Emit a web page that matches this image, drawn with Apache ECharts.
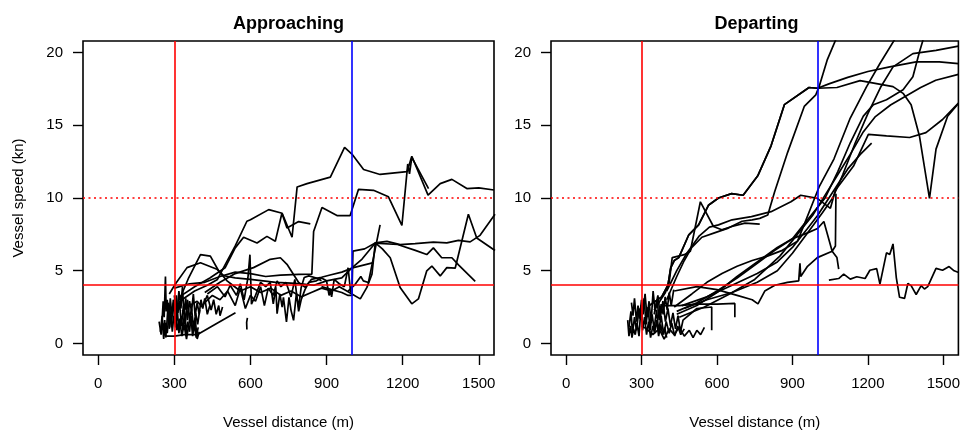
<!DOCTYPE html>
<html>
<head>
<meta charset="utf-8">
<script src="https://cdn.jsdelivr.net/npm/echarts@6/dist/echarts.min.js"></script>
<style>html,body{margin:0;padding:0;background:#fff;}#c{width:963px;height:435px;}</style>
</head>
<body>
<div id="c"></div>
<script>
// ---------- axis ticks ----------
const xTicks = [0, 300, 600, 900, 1200, 1500];
const yTicks = [0, 5, 10, 15, 20];
const refX = [300, 1000];      // red, blue vertical lines
const refY = [4, 10];          // red solid, red dotted
const panelTitles = ['Approaching', 'Departing'];

// ---------- Approaching tracks ([distance m, speed kn]) ----------
const appC1 = [[240,1.5],[248,0.6],[252,1.3],[258,0.9],[262,1.6],[266,0.4],[270,1.2],[276,2.8],[280,1.0],[286,2.1],[292,0.8],[298,1.9],[305,1.1],[312,2.3],[318,0.7],[326,1.8],[334,0.9],[340,2.2],[346,0.6],[352,1.5],[360,0.8],[366,1.9],[372,0.5],[380,1.3],[386,0.4],[394,1.1]];
const appC2 = [[250,1.0],[256,2.9],[260,1.8],[265,4.6],[268,2.2],[272,3.0],[278,1.4],[284,3.1],[290,2.0],[296,2.8],[302,1.4],[308,3.3],[314,2.1],[320,2.9],[328,1.2],[336,2.6],[344,1.5],[352,3.0],[360,1.7],[368,2.4],[376,1.0],[384,2.1],[392,1.3],[400,2.3]];
const appC3 = [[255,1.4],[262,0.6],[270,0.5],[300,0.5],[340,0.6],[390,0.6],[460,1.3],[541,2.1]];
const appC4 = [[300,3.3],[310,1.8],[318,3.6],[326,2.4],[332,3.9],[338,2.0],[345,3.1],[352,1.6],[360,2.9],[368,2.2],[375,3.4],[382,1.9],[390,2.8],[398,2.0],[405,3.0],[412,2.4],[420,3.1],[430,2.0],[440,2.6]];
const appC5 = [[330,2.2],[360,2.6],[390,2.9],[410,2.5],[430,3.3],[445,2.3],[455,3.0],[465,2.0],[475,2.6],[480,1.9],[490,2.5]];
const appC6 = [[588,1.75],[585,1.45],[586,0.95]];
const appC7 = [[245,0.8],[252,1.9],[258,0.3],[264,1.4],[272,0.7],[282,2.5],[288,1.1],[296,3.0],[304,2.2],[310,0.9],[320,1.7],[330,0.5],[338,1.3],[348,0.3],[356,1.2],[364,2.0],[372,0.9],[382,1.7],[390,0.3],[398,0.8]];
const appL1 = [[300,2.4],[330,3.0],[380,3.6],[430,4.0],[470,4.4],[500,5.4],[540,6.7],[586,8.4],[600,8.5],[672,9.2],[725,8.95],[764,7.3],[784,10.76],[823,10.99],[915,11.44],[971,13.48],[1000,13.02],[1046,11.96],[1111,11.62],[1217,11.82],[1220,12.34],[1227,11.66],[1236,12.8],[1302,10.65]];
const appL2 = [[320,3.2],[380,3.9],[440,4.5],[500,5.2],[540,6.57],[573,7.3],[626,6.91],[665,7.36],[698,7.02],[724,8.95],[744,7.93],[790,8.38],[836,8.22]];
const appL3 = [[300,3.8],[360,4.1],[420,4.2],[480,4.6],[540,4.9],[600,4.8],[660,4.6],[718,4.7],[790,4.75],[842,4.76],[849,7.7],[882,9.35],[941,8.79],[993,8.79],[1026,10.6],[1085,10.53],[1144,10.08],[1197,8.11],[1217,11.78],[1236,12.87],[1300,10.2],[1348,10.99],[1394,11.28],[1453,10.65],[1500,10.7],[1560,10.55]];
const appL5 = [[280,3.4],[304,4.08],[350,5.21],[403,5.55],[468,5.1],[495,4.65],[540,4.5],[600,4.4],[650,4.3],[700,4.2],[760,4.15],[800,4.1],[850,4.0],[900,4.3],[960,4.5],[1000,5.2],[1040,5.8],[1092,6.9],[1180,6.8],[1250,6.4],[1295,6.11],[1321,6.57],[1354,5.89],[1394,5.89],[1420,5.4],[1486,4.26]];
const appL6 = [[320,3.0],[357,4.53],[403,6.11],[442,6.0],[475,4.98],[508,4.3],[530,4.0],[560,3.6],[600,3.9],[640,3.5],[680,3.8],[720,3.3],[760,3.6],[800,3.2],[840,3.5],[880,3.8],[920,3.6],[950,3.9],[980,3.6],[1000,3.4],[1033,3.06],[1059,3.85],[1079,4.76],[1092,6.91],[1120,6.5],[1151,5.89],[1190,3.85],[1236,2.72],[1262,3.06],[1295,4.99],[1315,5.32],[1348,4.64],[1374,5.21],[1407,5.17],[1459,8.88],[1492,7.25],[1564,6.39]];
const appL7 = [[420,3.5],[480,4.2],[540,4.8],[612,5.21],[678,5.78],[718,5.89],[744,5.44],[790,4.19],[816,3.85],[840,4.4],[880,4.55],[914,4.7],[960,4.9],[1006,5.21],[1085,5.55]];
const appL8 = [[880,3.9],[920,3.7],[960,3.5],[985,3.3],[1000,3.3],[1004,6.34],[1050,6.5],[1092,6.91],[1138,7.02],[1190,6.79],[1249,6.86],[1321,6.96],[1374,6.91],[1420,7.09],[1466,6.98],[1505,7.43],[1564,8.88]];
const appL9 = [[985,3.6],[1010,4.0],[1035,4.6],[1045,4.3],[1065,4.19],[1111,8.15]];
const appJ1 = [[430,3.4],[470,3.9],[500,3.2],[520,4.0],[545,3.3],[560,4.1],[575,3.0],[590,4.5],[598,6.1],[604,2.7],[620,3.3],[640,4.2],[660,3.9],[678,4.19],[690,2.72],[700,3.85],[705,2.04],[716,3.4],[725,2.49],[730,3.17],[742,1.47],[752,3.17],[760,2.27],[770,1.58],[781,3.4],[790,2.49],[800,3.85],[812,4.53],[830,4.64],[860,4.5],[880,4.3]];
const appJ2 = [[420,2.8],[450,3.3],[480,3.0],[510,3.6],[540,2.6],[560,3.8],[580,2.4],[600,3.3],[620,2.9],[640,3.9],[655,2.6],[670,3.8],[690,3.3],[705,4.3],[720,3.9],[740,4.2],[760,3.2],[775,4.4],[790,2.2],[800,3.0],[815,3.7],[830,4.2],[860,4.3],[880,4.5],[900,4.3],[910,3.3],[915,3.6],[920,3.2],[930,4.4],[950,4.1],[970,3.9],[985,5.2],[995,3.5]];

// ---------- Departing tracks ----------
const depC1 = [[245,1.6],[250,0.5],[256,1.2],[262,0.4],[268,1.0],[275,0.6],[282,1.4],[290,0.5],[298,2.6],[304,0.9],[312,1.8],[320,0.6],[328,1.5],[336,0.4],[345,1.2],[352,0.7],[360,1.6],[368,0.5],[376,1.3],[384,0.6],[392,1.1],[400,0.4]];
const depC2 = [[260,2.8],[266,1.9],[272,3.1],[280,1.5],[286,2.6],[292,1.7],[300,3.0],[306,2.0],[314,3.4],[322,1.8],[330,2.9],[338,1.4],[346,3.6],[354,2.2],[362,3.0],[370,1.6],[378,2.7],[386,2.0],[394,3.2],[402,2.3],[410,3.5],[418,2.6],[428,3.7]];
const depC3 = [[300,1.2],[320,1.0],[345,0.6],[370,1.0],[390,0.3],[410,1.0],[430,0.6],[450,1.1],[470,0.5],[490,0.9],[505,0.4],[520,0.9],[535,0.6],[550,1.1]];
const depC4 = [[350,2.0],[365,3.3],[375,1.8],[385,2.9],[395,1.5],[405,2.4],[415,1.2],[425,2.1],[435,1.0],[445,1.9],[455,0.8],[465,1.6],[520,2.4],[579,2.5],[579,0.9]];
const depC5 = [[380,2.6],[450,2.6],[520,2.7],[600,2.7],[671,2.75],[671,1.8]];
const depC6 = [[250,1.1],[258,2.2],[264,0.7],[272,1.8],[280,0.9],[290,2.4],[300,1.6],[310,3.1],[318,1.3],[326,2.5],[334,0.9],[342,2.0],[350,1.0],[360,2.3],[368,0.8],[378,1.9],[388,0.6],[398,1.5],[410,0.7],[420,1.4],[432,0.5],[444,1.2],[456,0.6],[470,1.0]];
const depD1 = [[330,2.6],[380,3.2],[405,4.0],[416,5.2],[430,5.7],[448,5.9],[488,7.47],[527,8.15],[566,9.5],[606,10.0],[658,10.3],[704,10.19],[763,11.55],[815,13.59],[868,16.42],[966,17.6],[1000,17.55],[1077,17.6],[1169,18.07],[1300,17.66],[1340,17.2],[1372,16.42],[1405,14.27],[1445,9.97],[1471,13.36],[1517,15.62],[1560,16.5]];
const depD2 = [[350,2.3],[395,3.5],[410,4.2],[422,5.9],[470,6.1],[494,6.34],[534,9.74],[586,8.04],[619,7.81],[659,8.04],[711,8.27],[770,8.2]];
const depD3 = [[400,3.0],[440,4.6],[470,5.7],[500,6.6],[540,7.3],[590,7.6],[645,7.93],[700,8.4],[740,8.5],[770,8.6],[802,8.83],[829,10.42],[881,13.14],[947,16.3],[993,17.1],[1006,17.66],[1038,19.48],[1075,21.0]];
const depD5 = [[430,2.5],[500,3.4],[560,4.2],[620,4.8],[680,5.3],[740,5.7],[800,6.0],[860,6.4],[920,7.02],[1006,10.76],[1065,12.68],[1130,15.5],[1195,17.66],[1248,19.25],[1310,21.0]];
const depD6 = [[440,2.2],[520,2.8],[600,3.6],[680,4.5],[760,5.5],[830,6.4],[900,7.2],[960,8.5],[1030,10.0],[1080,11.8],[1130,13.8],[1182,15.63],[1222,16.42],[1274,16.76],[1340,17.44],[1379,18.34],[1405,20.04],[1425,21.2]];
const depD7 = [[470,2.4],[560,3.0],[660,3.5],[760,4.2],[840,5.0],[900,6.2],[960,7.6],[1020,9.0],[1060,10.0],[1100,11.6],[1150,13.8],[1200,15.8],[1250,17.6],[1300,19.02],[1379,19.93],[1471,20.16],[1560,20.45]];
const depD8 = [[330,2.6],[380,3.2],[405,4.0],[416,5.2],[430,5.7],[448,5.9],[488,7.47],[527,8.15],[566,9.5],[606,10.0],[658,10.3],[704,10.19],[763,11.55],[815,13.59],[868,16.42],[966,17.6],[1000,17.55],[1045,17.85],[1120,18.3],[1200,18.7],[1287,19.02],[1392,19.36],[1484,19.36],[1560,19.25]];
const depD9 = [[400,3.6],[440,5.0],[480,6.2],[530,7.4],[570,8.0],[606,8.15],[660,8.5],[737,8.72],[815,9.06],[894,9.74],[933,10.19],[999,9.97],[1051,9.29],[1071,10.53],[1143,12.2],[1202,14.38],[1274,14.27],[1366,14.16],[1431,14.5],[1497,15.4],[1560,16.53]];
const depD10 = [[450,1.8],[550,2.5],[650,3.4],[750,4.4],[850,6.0],[920,7.5],[980,8.8],[1030,10.2],[1080,11.6],[1130,13.0],[1180,14.5],[1230,15.6],[1290,16.4],[1350,17.0],[1410,17.6],[1470,18.1],[1560,18.5]];
const depD11 = [[460,2.6],[560,3.2],[660,4.0],[760,4.8],[840,5.6],[900,6.6],[960,7.9],[1000,8.8],[1060,10.4],[1120,12.0],[1170,13.0],[1215,13.77]];
const depD12 = [[430,3.6],[520,3.9],[600,3.7],[680,3.3],[740,3.0],[763,2.72],[790,3.6],[830,4.0],[880,4.2],[925,4.3],[930,5.5],[933,4.6],[960,5.3],[999,5.9],[1058,6.34],[1077,5.9],[1084,5.1]];
const depD13 = [[440,2.0],[520,2.6],[600,3.5],[680,4.6],[760,5.6],[840,6.6],[900,7.2],[960,7.6],[1000,7.9],[1025,8.38],[1058,6.34],[1071,6.7],[1073,10.3]];
const depD14 = [[1045,4.35],[1084,4.46],[1104,4.76],[1130,4.42],[1156,4.58],[1189,4.46],[1208,5.03],[1235,5.14],[1248,4.08],[1274,6.23],[1287,6.11],[1300,6.84],[1313,4.53],[1326,3.17],[1346,3.1],[1359,4.12],[1372,3.97],[1392,3.36],[1412,3.97],[1425,3.74],[1438,3.9],[1471,5.16],[1497,5.03],[1523,5.28],[1543,4.99],[1561,4.87]];

const approachingTracks = [appC1, appC2, appC3, appC4, appC5, appC6, appC7, appL1, appL2, appL3, appL5, appL6, appL7, appL8, appL9, appJ1, appJ2];
const departingTracks = [depC1, depC2, depC3, depC4, depC5, depC6, depD1, depD2, depD3, depD5, depD6, depD7, depD8, depD9, depD10, depD11, depD12, depD13, depD14];

// ---------- chart ----------
const FONT = '"Liberation Sans", Arial, sans-serif';
const panelLeft = [83, 551];
const panelW = 411, panelTop = 41, panelH = 317;

function plainNum(v) { return String(v); }

function xAxisFor(i) {
  return {
    type: 'value', gridIndex: i, min: -60, max: 1560,
    axisLine: { show: false, onZero: false },
    splitLine: { show: false },
    axisTick: { show: true, inside: false, length: 10, customValues: xTicks, lineStyle: { color: '#000', width: 1.4 } },
    axisLabel: { customValues: xTicks, margin: 21, color: '#000', fontSize: 15, fontFamily: FONT, formatter: plainNum },
    name: 'Vessel distance (m)', nameLocation: 'middle', nameGap: 60,
    nameTextStyle: { color: '#000', fontSize: 15, fontFamily: FONT }
  };
}
function yAxisFor(i) {
  const ax = {
    type: 'value', gridIndex: i, min: -0.8, max: 20.8,
    axisLine: { show: false, onZero: false },
    splitLine: { show: false },
    axisTick: { show: true, inside: false, length: 10, customValues: yTicks, lineStyle: { color: '#000', width: 1.4 } },
    axisLabel: { customValues: yTicks, margin: 20, color: '#000', fontSize: 15, fontFamily: FONT, formatter: plainNum }
  };
  if (i === 0) {
    ax.name = 'Vessel speed (kn)';
    ax.nameLocation = 'middle';
    ax.nameRotate = 90;
    ax.nameGap = 57;
    ax.nameTextStyle = { color: '#000', fontSize: 15, fontFamily: FONT };
  }
  return ax;
}

const series = [];
function addTracks(tracks, idx) {
  tracks.forEach(function (t) {
    series.push({
      type: 'line', xAxisIndex: idx, yAxisIndex: idx, data: t,
      showSymbol: false, symbol: 'none', silent: true, clip: true,
      lineStyle: { color: '#000', width: 1.7 }, z: 2
    });
  });
  series.push({
    type: 'line', xAxisIndex: idx, yAxisIndex: idx, data: [], z: 5, silent: true,
    markLine: {
      silent: true, symbol: 'none', animation: false, label: { show: false },
      data: [
        { xAxis: refX[0], lineStyle: { color: '#ff0000', width: 1.6, type: 'solid' } },
        { xAxis: refX[1], lineStyle: { color: '#0000ff', width: 1.6, type: 'solid' } },
        { yAxis: refY[0], lineStyle: { color: '#ff0000', width: 1.6, type: 'solid' } },
        { yAxis: refY[1], lineStyle: { color: '#ff0000', width: 1.6, type: [2, 3.5] } }
      ]
    }
  });
}
addTracks(approachingTracks, 0);
addTracks(departingTracks, 1);

const chart = echarts.init(document.getElementById('c'), null, { renderer: 'canvas', width: 963, height: 435 });
chart.setOption({
  animation: false,
  backgroundColor: '#fff',
  grid: panelLeft.map(function (l) {
    return { left: l, top: panelTop, width: panelW, height: panelH, show: true, borderColor: '#000', borderWidth: 1.6, backgroundColor: 'transparent', containLabel: false };
  }),
  xAxis: [xAxisFor(0), xAxisFor(1)],
  yAxis: [yAxisFor(0), yAxisFor(1)],
  graphic: panelTitles.map(function (t, i) {
    return {
      type: 'text', x: panelLeft[i] + panelW / 2, y: 24, z: 10,
      style: { text: t, fill: '#000', font: 'bold 18px ' + FONT, textAlign: 'center', textVerticalAlign: 'middle', align: 'center', verticalAlign: 'middle' }
    };
  }),
  series: series
});
</script>
</body>
</html>
